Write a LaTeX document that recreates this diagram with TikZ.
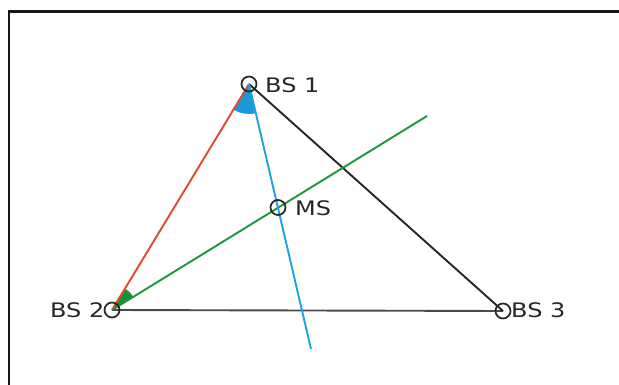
\documentclass[tikz,border=0pt]{standalone}
\usepackage{graphicx}
\usepackage{fontspec}
\setmainfont{DejaVu Sans}
\usetikzlibrary{angles}
\definecolor{ink}{HTML}{262626}
\definecolor{gline}{HTML}{4A4A4A}
\definecolor{rline}{HTML}{E5472E}
\definecolor{bline}{HTML}{1FA2DF}
\definecolor{grline}{HTML}{1E963F}
\definecolor{bwedge}{HTML}{1B9AD8}
\definecolor{gwedge}{HTML}{14923A}
\tikzset{
  station/.style={circle, draw=ink, line width=1.7pt, minimum size=15pt, inner sep=0pt},
  lbl/.style={inner sep=0pt, text=ink, font=\fontsize{20}{24}\selectfont},
  edge/.style={line width=1.9pt},
  frameline/.style={line width=2.2pt, draw=black!90},
}
\newcommand{\wide}[1]{\scalebox{1.2}[1]{#1}}
\begin{document}
\begin{tikzpicture}[x=1pt,y=1pt]
\useasboundingbox (0,-385) rectangle (619,0);
\fill[white] (0,-385) rectangle (619,0);
\draw[frameline] (9,-385) -- (9,-11.5) -- (619,-11.5);

% positions
\coordinate (p1) at (249,-84);
\coordinate (p2) at (112,-310);
\coordinate (p3) at (503,-311);
\coordinate (pm) at (278,-207.5);
\coordinate (gend) at (427,-116);
\coordinate (bend) at (311,-349);

% wedges
\pic[fill=bwedge, draw=none, angle radius=30pt] {angle = p2--p1--bend};
\pic[fill=gwedge, draw=none, angle radius=25pt] {angle = gend--p2--p1};

% lines
\draw[edge, draw=gline] (p2) -- (p3);
\draw[edge, draw=ink] (p1) -- (p3);
\draw[edge, draw=rline] (p1) -- (p2);
\draw[edge, draw=grline] (p2) -- (gend);
\draw[edge, draw=bline] (p1) -- (bend);

% stations
\node[station] (bs1) at (p1) {};
\node[station] (bs2) at (p2) {};
\node[station] (bs3) at (p3) {};
\node[station] (ms) at (pm) {};

% labels
\node[lbl, anchor=base west] (t1) at (265,-93) {\wide{BS 1}};
\node[lbl, anchor=base east] (t2) at (104.5,-317) {\wide{BS 2}};
\node[lbl, anchor=base west] (t3) at (511,-317.5) {\wide{BS 3}};
\node[lbl, anchor=base west] (tm) at (295,-215) {\wide{MS}};
\end{tikzpicture}
\end{document}
